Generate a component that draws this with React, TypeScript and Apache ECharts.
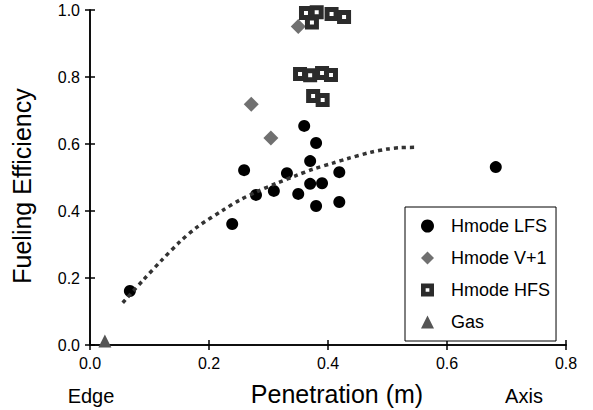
import React, { useEffect, useRef } from "react";
import * as echarts from "echarts";

const xTicks = [0, 0.2, 0.4, 0.6, 0.8];
const yTicks = [0, 0.2, 0.4, 0.6, 0.8, 1.0];

const hmodeLFS: number[][] = [
  [0.067, 0.161], [0.239, 0.361], [0.259, 0.522], [0.279, 0.448], [0.309, 0.46],
  [0.331, 0.513], [0.35, 0.451], [0.36, 0.654], [0.37, 0.549], [0.37, 0.481],
  [0.38, 0.603], [0.38, 0.415], [0.39, 0.483], [0.419, 0.516], [0.419, 0.427],
  [0.682, 0.531],
];
const hmodeV1: number[][] = [
  [0.271, 0.719], [0.304, 0.618], [0.35, 0.951],
];
const hmodeHFS: number[][] = [
  [0.363, 0.991], [0.381, 0.993], [0.406, 0.988], [0.427, 0.979], [0.373, 0.963],
  [0.353, 0.809], [0.37, 0.805], [0.39, 0.812], [0.405, 0.806],
  [0.375, 0.743], [0.391, 0.731],
];
const gas: number[][] = [[0.025, 0.012]];
const fitLine: number[][] = [
  [0.055, 0.126], [0.089, 0.193], [0.121, 0.254], [0.151, 0.308], [0.18, 0.352],
  [0.224, 0.403], [0.252, 0.433], [0.281, 0.458], [0.314, 0.483], [0.348, 0.507],
  [0.375, 0.525], [0.408, 0.543], [0.432, 0.556], [0.471, 0.575], [0.5, 0.585],
  [0.521, 0.589], [0.551, 0.590],
];

const FONT = "'Liberation Sans', Arial, sans-serif";
const SQUARE = "path://M0,0L14,0L14,14L0,14Z M5,5L5,9L9,9L9,5Z";

export default function App() {
  const ref = useRef<HTMLDivElement>(null);
  useEffect(() => {
    document.body.style.margin = "0";
    if (!ref.current) return;
    const chart = echarts.init(ref.current, undefined, { renderer: "svg" });
    const axisLine = { show: true, lineStyle: { color: "#000", width: 1.5 } };
    const axisTick = { show: true, inside: true, length: 5, lineStyle: { color: "#000", width: 1.5 } };
    chart.setOption({
      animation: false,
      backgroundColor: "#fff",
      textStyle: { fontFamily: FONT },
      grid: { left: 90, right: 27, top: 10, bottom: 65 },
      xAxis: [
        {
          type: "value", min: xTicks[0], max: xTicks[xTicks.length - 1], interval: 0.2,
          position: "bottom", axisLine, axisTick, splitLine: { show: false },
          axisLabel: { formatter: (v: number) => v.toFixed(1), fontSize: 16, color: "#000", margin: 10, fontFamily: FONT },
        },
        {
          type: "value", min: xTicks[0], max: xTicks[xTicks.length - 1], interval: 0.2,
          position: "top", axisLine, axisTick, splitLine: { show: false }, axisLabel: { show: false },
        },
      ],
      yAxis: [
        {
          type: "value", min: yTicks[0], max: yTicks[yTicks.length - 1], interval: 0.2,
          position: "left", axisLine, axisTick, splitLine: { show: false },
          axisLabel: { formatter: (v: number) => v.toFixed(1), fontSize: 16, color: "#000", margin: 10, fontFamily: FONT },
        },
        {
          type: "value", min: yTicks[0], max: yTicks[yTicks.length - 1], interval: 0.2,
          position: "right", axisLine, axisTick, splitLine: { show: false }, axisLabel: { show: false },
        },
      ],
      legend: {
        orient: "vertical", left: 405, top: 207,
        data: ["Hmode LFS", "Hmode V+1", "Hmode HFS", "Gas"],
        borderColor: "#000", borderWidth: 1, borderRadius: 0, backgroundColor: "#fff",
        padding: [10, 6, 10, 16], itemGap: 14, itemWidth: 13, itemHeight: 13,
        textStyle: { fontSize: 18, color: "#000", fontFamily: FONT, padding: [0, 0, 0, 12] },
      },
      series: [
        {
          name: "Hmode LFS", type: "scatter", data: hmodeLFS, symbol: "circle", symbolSize: 12,
          itemStyle: { color: "#000", opacity: 1 },
        },
        {
          name: "Hmode V+1", type: "scatter", data: hmodeV1, symbol: "diamond", symbolSize: 15,
          itemStyle: { color: "#707070", opacity: 1 },
        },
        {
          name: "Hmode HFS", type: "scatter", data: hmodeHFS, symbol: SQUARE, symbolSize: 14,
          itemStyle: { color: "#2b2b2b", opacity: 1 },
        },
        {
          name: "Gas", type: "scatter", data: gas, symbol: "triangle", symbolSize: 13,
          itemStyle: { color: "#555", opacity: 1 },
        },
        {
          name: "fit", type: "line", data: fitLine, smooth: 0.3, showSymbol: false, symbol: "none",
          lineStyle: { color: "#333", width: 3.5, type: [4, 4], cap: "butt" }, z: 5,
        },
      ],
      graphic: [
        {
          type: "text", x: 22, y: 186, rotation: Math.PI / 2,
          style: { text: "Fueling Efficiency", fontSize: 25, fontFamily: FONT, fill: "#000", textAlign: "center", textVerticalAlign: "middle" },
        },
        {
          type: "text", x: 337, y: 394,
          style: { text: "Penetration (m)", fontSize: 25, fontFamily: FONT, fill: "#000", textAlign: "center", textVerticalAlign: "middle" },
        },
        {
          type: "text", x: 91, y: 396,
          style: { text: "Edge", fontSize: 20, fontFamily: FONT, fill: "#000", textAlign: "center", textVerticalAlign: "middle" },
        },
        {
          type: "text", x: 524, y: 396,
          style: { text: "Axis", fontSize: 20, fontFamily: FONT, fill: "#000", textAlign: "center", textVerticalAlign: "middle" },
        },
      ],
    });
    return () => chart.dispose();
  }, []);
  return <div ref={ref} style={{ position: "fixed", left: 0, top: 0, width: 593, height: 410 }} />;
}
